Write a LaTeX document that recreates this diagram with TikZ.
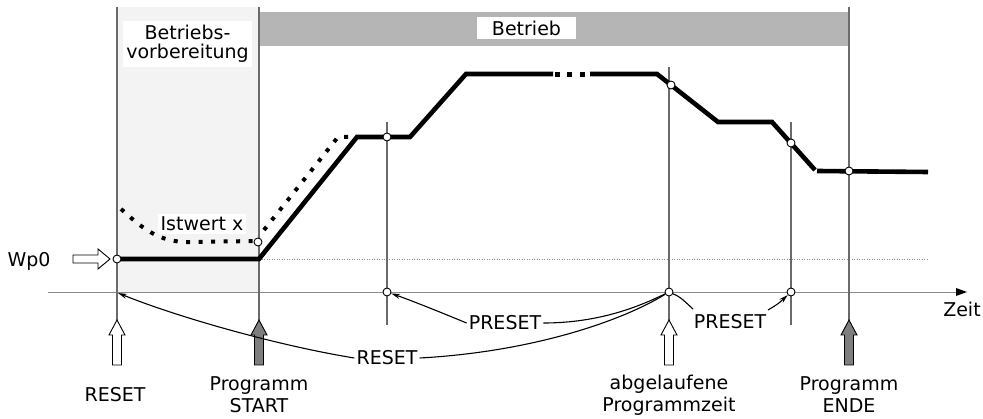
\documentclass[tikz,border=0pt]{standalone}
\usepackage{fontspec}
\setmainfont{DejaVu Sans}
\usetikzlibrary{arrows.meta}
\definecolor{lightshade}{HTML}{F3F3F3}
\definecolor{barshade}{HTML}{B5B5B5}
\definecolor{vline}{HTML}{6A6A6A}
\definecolor{axisgrey}{HTML}{8A8A8A}
\definecolor{arrowgrey}{HTML}{7E7E7E}
\begin{document}
\begin{tikzpicture}[x=1pt,y=-1pt,
  every node/.style={font=\fontsize{19}{22}\selectfont},
  lbl/.style={inner sep=2pt, align=center},
  dot/.style={circle, draw=black, fill=white, inner sep=0pt, minimum size=8pt, line width=0.9pt},
  marker/.style={draw=vline, line width=1.3pt},
  thick curve/.style={line width=4.6pt, black},
  conn/.style={line width=1.1pt, black},
  tip/.style={-{Stealth[length=9pt,width=5pt]}},
  blockarrow/.style={draw=black, line width=0.9pt, line join=miter},
  pics/uparrow/.style={code={
    \path[blockarrow,#1] (0,0) -- (8,15) -- (4.5,15) -- (4.5,45) -- (-4.5,45) -- (-4.5,15) -- (-8,15) -- cycle;}}
  ]
\useasboundingbox (0,0) rectangle (983,419);
% shaded regions
\fill[lightshade] (117,7) rectangle (259,292);
\fill[barshade] (259,12) rectangle (849,46);
\node[lbl, fill=white, minimum width=129pt, minimum height=46pt, inner sep=0pt] (prep) at (187.5,44) {Betriebs-\\[-3pt]vorbereitung};
\node[lbl, fill=white, minimum width=99pt, minimum height=22pt, inner sep=0pt] (betr) at (526.5,28) {Betrieb};

% axis and reference line
\coordinate (axstart) at (48,292);
\coordinate (axend) at (967,292);
\draw[axisgrey, line width=0.9pt] (axstart) -- (956,292);
\fill[black] (956,288) -- (axend) -- (956,296) -- cycle;
\coordinate (refa) at (259,259);
\coordinate (refb) at (927,259);
\draw[axisgrey, line width=0.8pt, dash pattern=on 1pt off 1.5pt] (refa) -- (refb);

% vertical markers
\draw[marker] (117,7) -- (117,320);
\draw[marker] (259,7) -- (259,320);
\draw[marker] (387,122) -- (387,325);
\draw[marker] (669,67) -- (669,320);
\draw[marker] (791,122) -- (791,325);
\draw[marker] (849,7) -- (849,320);

% actual value (dotted)
\draw[line width=4pt, dash pattern=on 4pt off 8.5pt]
  (121,209) .. controls (140,226) and (158,243) .. (190,242) -- (256,241);
\draw[line width=4pt, dash pattern=on 4pt off 8.5pt]
  (264,230) -- (338,137) -- (356,137);
\node[lbl, fill=white, inner sep=3pt] (ist) at (202,224) {Istwert x};

% set point curve
\draw[thick curve] (117,259) -- (259,259) -- (357,137) -- (410,137) -- (466,74) -- (553,74);
\fill (555,72) rectangle (560,77);
\fill (567,72) rectangle (572,77);
\fill (580,72) rectangle (585,77);
\draw[thick curve] (590,74) -- (657,74) -- (718,122) -- (772,122) -- (815,170);
\draw[thick curve] (817,171) -- (928,172);

% points
\node[dot] (w0) at (117,259) {};
\node[dot] (x0) at (258,242) {};
\node[dot] (q1) at (387,137) {};
\node[dot] (q2) at (671,85) {};
\node[dot] (q3) at (791,143) {};
\node[dot] (q4) at (849,171) {};
\coordinate (r0) at (118,293);
\node[dot] (p1) at (387,292) {};
\node[dot] (ab) at (669,292) {};
\node[dot] (p2) at (791,292) {};

% Wp0
\node[lbl] (wp) at (29,261) {Wp0};
\path[blockarrow, fill=white] (73,255) -- (98,255) -- (98,249) -- (110,259) -- (98,269) -- (98,263) -- (73,263) -- cycle;

% bottom block arrows
\pic at (117,320) {uparrow={fill=white}};
\pic at (259,320) {uparrow={fill=arrowgrey}};
\pic at (669,320) {uparrow={fill=white}};
\pic at (849,320) {uparrow={fill=arrowgrey}};

% bottom labels
\node[lbl] (lreset) at (115,395) {RESET};
\node[lbl] (lstart) at (259,395) {Programm\\START};
\node[lbl] (labg) at (669,395) {abgelaufene\\Programmzeit};
\node[lbl] (lende) at (849,395) {Programm\\ENDE};
\node[lbl] (zeit) at (962,309) {Zeit};

% connector labels
\node[lbl] (pre1) at (505,323) {PRESET};
\node[lbl] (res) at (387,358) {RESET};
\node[lbl] (pre2) at (730,322) {PRESET};
\coordinate (pre2a) at (693,309);
\coordinate (pre2b) at (768,310);

% connectors
\draw[conn, tip] (pre1.west) .. controls (435,310) and (410,300) .. (p1);
\draw[conn] (pre1.east) .. controls (600,323) and (640,306) .. (ab);
\draw[conn] (res.east) .. controls (530,352) and (620,322) .. (ab);
\draw[conn, tip] (res.west) .. controls (280,346) and (180,318) .. (r0);
\draw[conn] (ab) .. controls (680,297) .. (pre2a);
\draw[conn, tip] (pre2b) .. controls (778,304) .. (p2);
\end{tikzpicture}
\end{document}
